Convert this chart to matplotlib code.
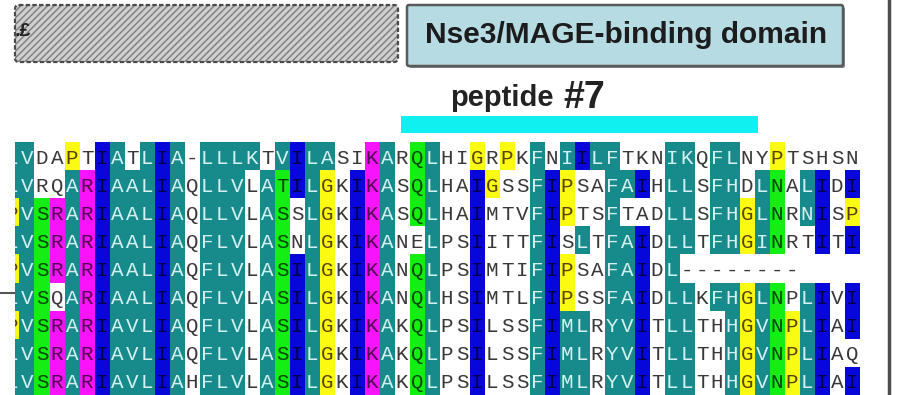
import matplotlib
matplotlib.use("Agg")
import numpy as np
import matplotlib.pyplot as plt
from matplotlib.colors import to_rgb
from matplotlib.patches import FancyBboxPatch, Rectangle

# aligned residues, one string per sequence (column 0 is cut at the panel edge)
sequences = [
    "LVDAPTIATLIA-LLLKTVILASIKARQLHIGRPKFNIILFTKNIKQFLNYPTSHSN",
    "LVRQARIAALIAQLLVLATILGKIKASQLHAIGSSFIPSAFAIHLLSFHDLNALIDI",
    "PVSRARIAALIAQLLVLASSLGKIKASQLHAIMTVFIPTSFTADLLSFHGLNRNISP",
    "LVSRARIAALIAQFLVLASNLGKIKANELPSIITTFISLTFAIDLLTFHGINRTITI",
    "PVSRARIAALIAQFLVLASILGKIKANQLPSIMTIFIPSAFAIDL--------    ",
    "LVSQARIAALIAQFLVLASILGKIKANQLHSIMTLFIPSSFAIDLLKFHGLNPLIVI",
    "PVSRARIAVLIAQFLVLASILGKIKAKQLPSILSSFIMLRYVITLLTHHGVNPLIAI",
    "LVSRARIAVLIAQFLVLASILGKIKAKQLPSILSSFIMLRYVITLLTHHGVNPLIAQ",
    "LVSRARIAVLIAHFLVLASILGKIKAKQLPSILSSFIMLRYVITLLTHHGVNPLIAI",
]

# shading class of every residue: w none, t teal, b blue, m magenta, y yellow, g green
shading = [
    "ttwwywbtwtbtwttttwtbttwwmtwgtwwywywtwtbttwwwttwttwwywwwww",
    "ttwwtmbtttbtwtttwtgbtywbmtwgtwwbywwtbywwttbwttwttwtgwtbwb",
    "ytgmtmbtttbtwtttwtgwtywbmtwgtwwbwwwtbywwtwwwttwttytgwtbwy",
    "ttgmtmbtttbtwtttwtgwtywbmtwwtwwbwwwtbwtwttbwttwttytgwwbwb",
    "ytgmtmbtttbtwtttwtgbtywbmtwgtwwbwwwtbywwttbwtwwwwwwwwwwww",
    "ttgwtmbtttbtwtttwtgbtywbmtwgtwwbwwwtbywwttbwttwttytgwtbwb",
    "ytgmtmbtttbtwtttwtgbtywbmtwgtwwbwwwtbttwttbwttwwtytgytbwb",
    "ttgmtmbtttbtwtttwtgbtywbmtwgtwwbwwwtbttwttbwttwwtytgytbww",
    "ttgmtmbtttbtwtttwtgbtywbmtwgtwwbwwwtbttwttbwttwwtytgytbwb",
]

palette = {"w": "#ffffff", "t": "#178b8b", "b": "#0707dc",
           "m": "#f814f8", "y": "#fafa12", "g": "#14ee14"}
ink = {"w": "#383838", "t": "#d4f0f0", "b": "#00004a",
       "m": "#500050", "y": "#5a4200", "g": "#004600"}

left_label = ".\u00a3"
domain_label = "Nse3/MAGE-binding domain"
peptide_name = "peptide"
peptide_num = "#7"
peptide_cols = (25.9, 49.7)

fig = plt.figure(figsize=(8.99, 3.95), dpi=100)

# pixel-space layer for the boxes and frame lines
deco = fig.add_axes([0, 0, 1, 1])
deco.set_xlim(0, 899)
deco.set_ylim(395, 0)
deco.axis("off")

# alignment layer: one unit per residue column / sequence row
aln = fig.add_axes([15 / 899, 0, 1 - 15 / 899, 1])
aln.set_xlim(0.2, 59.13)
aln.set_ylim(8.5, -5.607)
aln.axis("off")

ncol = max(len(s) for s in sequences)
rgb = np.ones((len(sequences), ncol, 3))
for r, shade in enumerate(shading):
    for c, code in enumerate(shade):
        rgb[r, c] = to_rgb(palette[code])
aln.imshow(rgb, extent=(-0.5, ncol - 0.5, len(sequences) - 0.5, -0.5),
           aspect="auto", interpolation="nearest")

for r, (seq, shade) in enumerate(zip(sequences, shading)):
    for c, (aa, code) in enumerate(zip(seq, shade)):
        if aa == " ":
            continue
        aln.text(c, r + 0.25, aa, ha="center", va="baseline", clip_on=True,
                 family="Liberation Mono", fontsize=15, color=ink[code])

# peptide bar over the aligned columns
aln.add_patch(Rectangle((peptide_cols[0], -1.46), peptide_cols[1] - peptide_cols[0], 0.6,
                        facecolor="#10f0f0", edgecolor="none"))

# hatched region box on the left
deco.add_patch(FancyBboxPatch((15, 5), 383, 57, boxstyle="round,pad=0,rounding_size=4",
                              facecolor="#cfcfcf", edgecolor="#7c7c7c", hatch="/////",
                              linewidth=0))
deco.add_patch(FancyBboxPatch((15, 5), 383, 57, boxstyle="round,pad=0,rounding_size=4",
                              facecolor="none", edgecolor="#4a4a4a", linewidth=1.6,
                              linestyle=(0, (2, 1))))
deco.text(15, 32, left_label, ha="left", va="center", fontsize=14,
          fontweight="bold", color="#222222", family="Liberation Sans")

# domain box
deco.add_patch(FancyBboxPatch((409, 7), 436, 61, boxstyle="round,pad=0,rounding_size=2",
                              facecolor="#7a8a8e", edgecolor="none"))
deco.add_patch(FancyBboxPatch((407, 5), 436, 61, boxstyle="round,pad=0,rounding_size=2",
                              facecolor="#b6dbe3", edgecolor="#5a5a5a", linewidth=1.8))
deco.text(626, 35, domain_label, ha="center", va="center", fontsize=21.5,
          fontweight="bold", color="#1c1c1c", family="Liberation Sans")

deco.text(450, 106, peptide_name, ha="left", va="baseline", fontsize=21,
          fontweight="bold", color="#222222", family="Liberation Sans")
deco.text(563, 108, peptide_num, ha="left", va="baseline", fontsize=27,
          fontweight="bold", color="#222222", family="Liberation Sans")

# frame pieces
deco.plot([889, 889], [0, 395], color="#4e4e4e", linewidth=2.5)
deco.plot([0, 15], [293, 293], color="#555555", linewidth=1.5)

fig.savefig("out.png", dpi=100)
